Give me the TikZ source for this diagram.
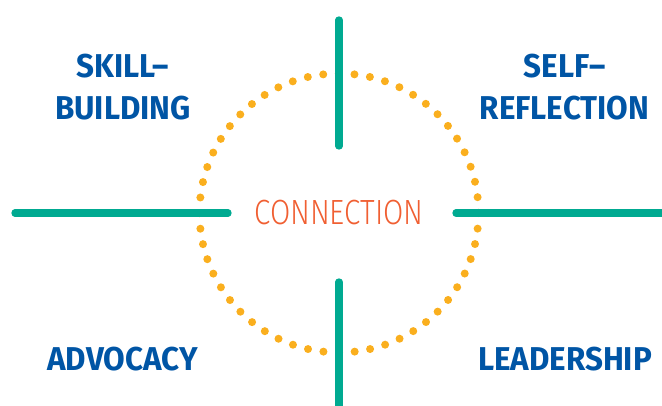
\documentclass[tikz,border=0pt]{standalone}
\usepackage{xcolor}
\usepackage{fontspec}
\usepackage{tikz}
\usetikzlibrary{positioning}
\setmainfont{Fira Sans}
\newfontfamily\headfont[FakeStretch=0.95]{Fira Sans}
\newfontfamily\thinfont[FakeStretch=0.84]{Fira Sans Light}
\definecolor{teal}{RGB}{0, 170, 145}
\definecolor{gold}{RGB}{250, 175, 30}
\definecolor{navy}{RGB}{0, 85, 165}
\definecolor{coral}{RGB}{240, 95, 50}

\begin{document}
\begin{tikzpicture}[x=1pt, y=-1pt,
        area/.style={text=navy, align=center, font=\headfont\bfseries\fontsize{33}{42}\selectfont},
        bar/.style={draw=teal, line width=7.3pt, line cap=round},
        dots/.style={draw=gold, line width=8pt, line cap=round, dash pattern=on 0pt off 15.65pt}
    ]
        \useasboundingbox (0,0) rectangle (662,405);

        \coordinate (hub) at (339,213);
        \draw[dots] (hub) circle (139.5);

        % the four arms
        \coordinate (northA) at (339,20);
        \coordinate (northB) at (339,146);
        \coordinate (southA) at (339,282);
        \coordinate (southB) at (339,412);
        \coordinate (westA) at (15,213);
        \coordinate (westB) at (228,213);
        \coordinate (eastA) at (456,213);
        \coordinate (eastB) at (670,213);
        \draw[bar] (northA) -- (northB);
        \draw[bar] (southA) -- (southB);
        \draw[bar] (westA) -- (westB);
        \draw[bar] (eastA) -- (eastB);

        \node (connection) [text=coral, font=\thinfont\fontsize{35}{40}\selectfont] at (hub) {CONNECTION};

        \node (skill) [area] at (123,87.5) {SKILL–\\BUILDING};
        \node (self) [area] at (564.5,87.5) {SELF–\\REFLECTION};
        \node (advocacy) [area] at (122.5,359.5) {ADVOCACY};
        \node (leadership) [area] at (565,359.5) {LEADERSHIP};
    \end{tikzpicture}
\end{document}
